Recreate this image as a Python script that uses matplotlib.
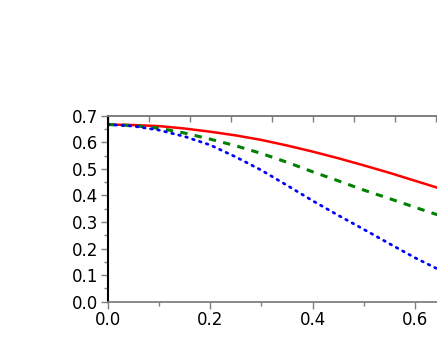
import matplotlib
matplotlib.use("Agg")
import matplotlib.pyplot as plt
from matplotlib.ticker import MultipleLocator, NullFormatter

# values
x = [0.0, 0.05, 0.1, 0.15, 0.2, 0.25, 0.3, 0.35, 0.4, 0.45, 0.5, 0.55, 0.6, 0.65]
red = [0.667, 0.665, 0.661, 0.652, 0.640, 0.626, 0.609, 0.588, 0.565, 0.540, 0.513, 0.485, 0.455, 0.425]
green = [0.667, 0.663, 0.653, 0.635, 0.612, 0.587, 0.558, 0.525, 0.489, 0.455, 0.420, 0.388, 0.355, 0.323]
blue = [0.667, 0.661, 0.646, 0.622, 0.590, 0.545, 0.495, 0.438, 0.380, 0.325, 0.272, 0.218, 0.165, 0.117]

GRAY = "#808080"
plt.rcParams["font.family"] = ["DejaVu Sans"]

fig = plt.figure(figsize=(4.37, 3.45), dpi=100)
# plot area is cut by the right edge of the picture, as in the reference
ax = fig.add_axes([0.246, 0.1255, 0.757, 0.539])
ax.plot(x, red, color="#ff0000", lw=1.8, solid_capstyle="butt")
ax.plot(x, green, color="#008000", lw=2.2, linestyle=(0, (2.4, 2.4)))
ax.plot(x, blue, color="#0000ff", lw=2.0, linestyle=(0, (0.6, 2.0)), dash_capstyle="round")

ax.set_xlim(0, 0.645)
ax.set_ylim(0, 0.7)
ax.xaxis.set_major_locator(MultipleLocator(0.2))
ax.xaxis.set_minor_locator(MultipleLocator(0.1))
ax.yaxis.set_major_locator(MultipleLocator(0.1))
ax.yaxis.set_minor_locator(MultipleLocator(0.05))
ax.xaxis.set_major_formatter(lambda v, p: f"{v:.1f}")
ax.yaxis.set_major_formatter(lambda v, p: f"{v:.1f}")

ax.spines["left"].set_color("black")
ax.spines["left"].set_linewidth(1.5)
for s in ("top", "bottom"):
    ax.spines[s].set_color(GRAY)
    ax.spines[s].set_linewidth(1.3)
ax.spines["right"].set_visible(False)

ax.tick_params(axis="both", which="major", direction="out", length=5, width=1,
               color=GRAY, labelsize=12, labelcolor="black", pad=2)
ax.tick_params(axis="both", which="minor", direction="out", length=3, width=1, color=GRAY)
ax.tick_params(axis="x", which="both", top=False)

# top spine carries its own inward ticks every 0.08
top = ax.secondary_xaxis("top")
top.xaxis.set_major_locator(MultipleLocator(0.08))
top.xaxis.set_major_formatter(NullFormatter())
top.tick_params(direction="in", length=4, width=1, color=GRAY)
top.spines["top"].set_color(GRAY)
top.spines["top"].set_linewidth(1.3)

fig.savefig("out.png", dpi=100)
